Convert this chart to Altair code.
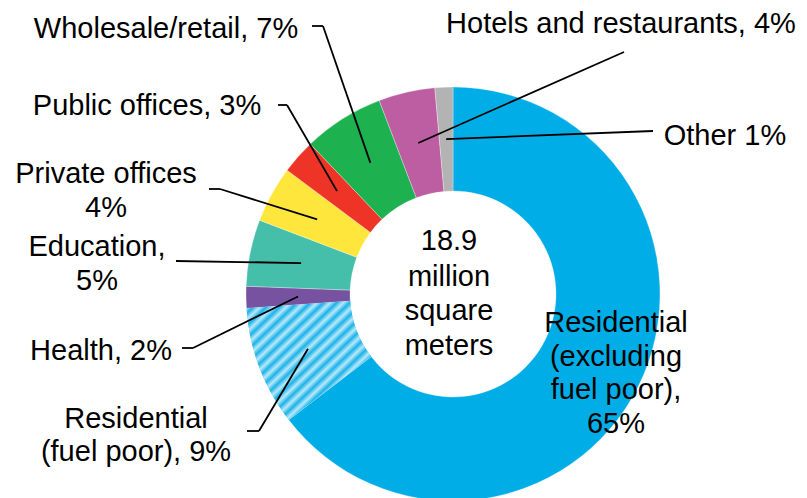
import altair as alt
import pandas as pd

# ---------------- data ----------------
categories = [
    "Residential (excluding fuel poor)",
    "Residential (fuel poor)",
    "Health",
    "Education",
    "Private offices",
    "Public offices",
    "Wholesale/retail",
    "Hotels and restaurants",
    "Other",
]
shares = [64.6, 9.3, 1.7, 5.2, 4.4, 2.7, 6.3, 4.4, 1.4]
label_lines = [
    ["Residential", "(excluding", "fuel poor),", "65%"],
    ["Residential", "(fuel poor), 9%"],
    ["Health, 2%"],
    ["Education,", "5%"],
    ["Private offices", "4%"],
    ["Public offices, 3%"],
    ["Wholesale/retail, 7%"],
    ["Hotels and restaurants, 4%"],
    ["Other 1%"],
]
center_lines = ["18.9", "million", "square", "meters"]

# ---------------- styles / layout ----------------
colors = ["#00ADE6", "#5BC8EE", "#7752A1", "#45BFAA", "#FFE63C",
          "#EE3427", "#1DB14F", "#BD5DA2", "#B3B3B3"]
M = 8  # page margin
CX, CY = 453 - M, 294 - M
R_OUT, R_IN, R_LEAD = 207, 103, 155
FONT = "Liberation Sans"
FS = 29

label_x = [616, 136, 101, 97, 106, 147, 166, 621, 725]
label_y = [[332, 365.5, 399, 432.5], [428, 460.5], [360], [256, 290],
           [183, 217], [115], [38], [33], [145]]
leader_start = [None, (247, 431), (182, 348), (176, 261), (209, 189),
                (278, 105), (312, 26), (624, 52), (653, 131)]
leader_elbow = [None, (259, 431), (193, 348), (176, 261), (220, 189),
                (287, 105), (323, 26), (624, 52), (653, 131)]
center_x = 449
center_y = [250, 285.5, 320, 355]

# ---------------- tables ----------------
rows = []
for i, (c, s) in enumerate(zip(categories, shares)):
    st = leader_start[i]
    el = leader_elbow[i]
    rows.append({
        "category": c, "share": s, "order": i,
        "sx": st[0] - M if st else None, "sy": st[1] - M if st else None,
        "ex": el[0] - M if el else None, "ey": el[1] - M if el else None,
    })
df = pd.DataFrame(rows)

text_rows = []
for i, lines in enumerate(label_lines):
    for ln, yy in zip(lines, label_y[i]):
        text_rows.append({"text": ln, "x": label_x[i] - M, "y": yy - M})
for ln, yy in zip(center_lines, center_y):
    text_rows.append({"text": ln, "x": center_x - M, "y": yy - M})
tdf = pd.DataFrame(text_rows)

base = (
    alt.Chart(df)
    .transform_window(cum="sum(share)", sort=[alt.SortField("order")], frame=[None, 0])
    .transform_calculate(a0="(datum.cum - datum.share) / 100 * 2 * PI")
    .transform_calculate(a1="datum.cum / 100 * 2 * PI")
    .transform_calculate(am="(datum.cum - datum.share / 2) / 100 * 2 * PI")
    .transform_calculate(ax=f"{CX} + {R_LEAD} * sin(datum.am)")
    .transform_calculate(ay=f"{CY} - {R_LEAD} * cos(datum.am)")
)

arcs = base.mark_arc(outerRadius=R_OUT, innerRadius=R_IN, stroke="white", strokeWidth=0.3).encode(
    theta=alt.Theta("a0:Q", scale=None),
    theta2="a1:Q",
    color=alt.Color("category:N", scale=alt.Scale(domain=categories, range=colors), legend=None),
    x=alt.value(CX),
    y=alt.value(CY),
)

N = 19
A, B = "#1CB2E8", "#B8E9FA"
stops = [alt.GradientStop(offset=k / (2 * N), color=(A if k % 2 == 0 else B)) for k in range(2 * N + 1)]
grad = alt.LinearGradient(gradient="linear", stops=stops, x1=0, y1=0, x2=1, y2=1)

hatch = base.transform_filter(alt.datum.category == "Residential (fuel poor)").mark_arc(
    outerRadius=R_OUT, innerRadius=R_IN, fill=grad
).encode(
    theta=alt.Theta("a0:Q", scale=None),
    theta2="a1:Q",
    x=alt.value(CX),
    y=alt.value(CY),
)

lead_base = base.transform_filter("isValid(datum.sx)")
lead1 = lead_base.mark_rule(color="black", strokeWidth=1.8).encode(
    x=alt.X("sx:Q", scale=None), y=alt.Y("sy:Q", scale=None), x2="ex:Q", y2="ey:Q"
)
lead2 = lead_base.mark_rule(color="black", strokeWidth=1.8).encode(
    x=alt.X("ex:Q", scale=None), y=alt.Y("ey:Q", scale=None), x2="ax:Q", y2="ay:Q"
)

texts = alt.Chart(tdf).mark_text(
    align="center", baseline="alphabetic", font=FONT, fontSize=FS, color="black"
).encode(
    x=alt.X("x:Q", scale=None), y=alt.Y("y:Q", scale=None), text="text:N"
)

chart = (
    alt.layer(arcs, hatch, lead1, lead2, texts)
    .properties(width=791, height=490, padding=0, autosize=alt.AutoSizeParams(type="none"))
    .configure_view(stroke=None)
)

chart.save("out.html", embed_options={"renderer": "svg", "actions": False})
